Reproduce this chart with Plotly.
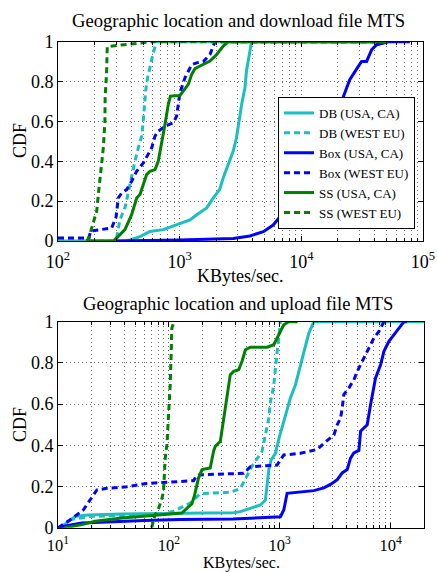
import plotly.graph_objects as go
import math

# ---------------- data: top chart (download) ----------------
top_db_ca_x = [100, 367, 472, 570, 733, 944, 1216, 1381, 1667, 1890, 2130, 2282, 2513, 2756, 2930, 3033, 3230, 3442, 3541, 3780, 3900, 51800]
top_db_ca_y = [0, 0, 0.022, 0.048, 0.057, 0.08, 0.106, 0.132, 0.166, 0.216, 0.258, 0.317, 0.383, 0.451, 0.518, 0.585, 0.685, 0.769, 0.853, 0.953, 1.0, 1.0]

top_db_eu_x = [100, 290, 303, 323, 355, 378, 403, 429, 457, 487, 502, 512, 525, 545, 570, 607, 647, 51800]
top_db_eu_y = [0, 0, 0.015, 0.107, 0.166, 0.25, 0.317, 0.40, 0.467, 0.526, 0.601, 0.685, 0.752, 0.819, 0.878, 0.945, 1.0, 1.0]

top_box_ca_x = [300, 1005, 2756, 3780, 4870, 5870, 6680, 7470, 21400, 25000, 29400, 31300, 34400, 37900, 41600, 51800, 78000]
top_box_ca_y = [0, 0.005, 0.013, 0.025, 0.047, 0.08, 0.122, 0.156, 0.70, 0.809, 0.876, 0.901, 0.901, 0.96, 0.985, 1.0, 1.0]

top_box_eu_x = [100, 180, 185, 229, 276, 300, 313, 334, 367, 403, 443, 503, 553, 589, 627, 667, 757, 832, 886, 944, 975, 1005, 1106, 1178, 1256, 1400, 1564, 1775, 1890, 1950, 51800]
top_box_eu_y = [0.015, 0.015, 0.05, 0.057, 0.065, 0.12, 0.216, 0.241, 0.258, 0.30, 0.35, 0.392, 0.434, 0.467, 0.526, 0.551, 0.576, 0.588, 0.593, 0.626, 0.685, 0.744, 0.819, 0.852, 0.885, 0.895, 0.90, 0.936, 0.978, 1.0, 1.0]

top_ss_ca_x = [177, 285, 313, 355, 403, 443, 472, 503, 535, 570, 627, 667, 711, 757, 806, 840, 1005, 1071, 1178, 1256, 1336, 1468, 1775, 2015, 2282, 2513, 51800]
top_ss_ca_y = [0, 0, 0.023, 0.057, 0.132, 0.216, 0.233, 0.283, 0.333, 0.350, 0.358, 0.40, 0.484, 0.585, 0.685, 0.727, 0.730, 0.752, 0.786, 0.836, 0.865, 0.878, 0.903, 0.936, 0.978, 1.0, 1.0]

top_ss_eu_x = [172, 177, 186, 195, 208, 216, 222, 236, 243, 244, 251, 254, 350, 600, 51800]
top_ss_eu_y = [0, 0.01, 0.05, 0.09, 0.15, 0.25, 0.32, 0.47, 0.60, 0.72, 0.85, 0.975, 0.985, 1.0, 1.0]

# ---------------- data: bottom chart (upload) ----------------
bot_db_ca_x = [10.5, 12.4, 14.3, 18.5, 37.6, 213, 384, 441, 543, 669, 742, 769, 796, 836, 914, 980, 1087, 1165, 1248, 1386, 1485, 1592, 1706, 1829, 2030, 20000]
bot_db_ca_y = [0, 0.031, 0.055, 0.062, 0.066, 0.071, 0.073, 0.078, 0.094, 0.11, 0.134, 0.199, 0.28, 0.329, 0.361, 0.43, 0.52, 0.581, 0.63, 0.694, 0.759, 0.824, 0.888, 0.945, 1.0, 1.0]

bot_db_eu_x = [11, 13, 20, 50, 90, 110, 130, 156, 192, 253, 358, 441, 507, 563, 692, 742, 795, 824, 883, 914, 946, 980, 1014]
bot_db_eu_y = [0, 0.04, 0.055, 0.06, 0.065, 0.08, 0.1, 0.12, 0.165, 0.168, 0.172, 0.19, 0.257, 0.3, 0.37, 0.45, 0.53, 0.61, 0.69, 0.775, 0.856, 0.937, 1.0]

bot_box_ca_x = [10, 12, 16.4, 26.6, 60, 126, 380, 1014, 1087, 1165, 1537, 2030, 2497, 2870, 3300, 3660, 4060, 4350, 4660, 5170, 5360, 6150, 6590, 7310, 8120, 8700, 9650, 11100, 13200, 14000]
bot_box_ca_y = [0, 0.01, 0.023, 0.028, 0.035, 0.04, 0.042, 0.053, 0.086, 0.167, 0.175, 0.18, 0.193, 0.21, 0.233, 0.266, 0.282, 0.338, 0.363, 0.375, 0.468, 0.50, 0.597, 0.727, 0.791, 0.856, 0.905, 0.945, 1.0, 1.0]

bot_box_eu_x = [10, 12.8, 16.9, 19.5, 22.4, 27.5, 41.8, 63.3, 110, 167, 179, 384, 472, 543, 946, 1014, 1087, 1537, 2176, 2588, 3080, 3300, 3535, 3660, 3785, 4200, 4660, 5170, 5740, 6370, 7070, 7840, 8700]
bot_box_eu_y = [0, 0.037, 0.086, 0.134, 0.183, 0.191, 0.199, 0.215, 0.223, 0.228, 0.256, 0.26, 0.264, 0.296, 0.304, 0.329, 0.353, 0.361, 0.38, 0.417, 0.45, 0.50, 0.532, 0.581, 0.646, 0.678, 0.718, 0.775, 0.824, 0.872, 0.921, 0.953, 1.0]

bot_ss_ca_x = [11.5, 16.4, 21.6, 37.6, 75, 131, 146, 161, 170, 185, 199, 236, 253, 262, 291, 312, 334, 358, 384, 426, 457, 490, 543, 769, 883, 980, 1087, 1205, 1450]
bot_ss_ca_y = [0, 0.015, 0.031, 0.047, 0.06, 0.071, 0.095, 0.115, 0.155, 0.241, 0.282, 0.29, 0.371, 0.395, 0.419, 0.532, 0.646, 0.743, 0.759, 0.767, 0.808, 0.864, 0.876, 0.876, 0.888, 0.937, 0.985, 1.0, 1.0]

bot_ss_eu_x = [70, 75, 80, 86, 89.5, 92.7, 96, 99.4, 102.8, 105, 106.4, 111.7]
bot_ss_eu_y = [0, 0.063, 0.087, 0.136, 0.176, 0.338, 0.403, 0.532, 0.694, 0.856, 0.969, 1.0]

series_names = ["DB (USA, CA)", "DB (WEST EU)", "Box (USA, CA)", "Box (WEST EU)", "SS (USA, CA)", "SS (WEST EU)"]
top_x_ticks = [100, 1000, 10000, 100000]
top_x_text = ["10<sup>2</sup>", "10<sup>3</sup>", "10<sup>4</sup>", "10<sup>5</sup>"]
bot_x_ticks = [10, 100, 1000, 10000]
bot_x_text = ["10<sup>1</sup>", "10<sup>2</sup>", "10<sup>3</sup>", "10<sup>4</sup>"]
y_ticks = [0, 0.2, 0.4, 0.6, 0.8, 1]
y_text = ["0", "0.2", "0.4", "0.6", "0.8", "1"]

# ---------------- styling ----------------
CYAN = "#1CBFBF"
BLUE = "#0000FF"
GREEN = "#008000"
colors = [CYAN, CYAN, BLUE, BLUE, GREEN, GREEN]
dashes = ["solid", "6px,4px", "solid", "6px,4px", "solid", "6px,4px"]
FONT = "Liberation Serif"
W, H = 437, 572

top_data = [(top_db_ca_x, top_db_ca_y), (top_db_eu_x, top_db_eu_y), (top_box_ca_x, top_box_ca_y),
            (top_box_eu_x, top_box_eu_y), (top_ss_ca_x, top_ss_ca_y), (top_ss_eu_x, top_ss_eu_y)]
bot_data = [(bot_db_ca_x, bot_db_ca_y), (bot_db_eu_x, bot_db_eu_y), (bot_box_ca_x, bot_box_ca_y),
            (bot_box_eu_x, bot_box_eu_y), (bot_ss_ca_x, bot_ss_ca_y), (bot_ss_eu_x, bot_ss_eu_y)]

fig = go.Figure()
for i, (xs, ys) in enumerate(top_data):
    fig.add_trace(go.Scatter(x=xs, y=ys, mode="lines", name=series_names[i],
                             line=dict(color=colors[i], width=3, dash=dashes[i]),
                             xaxis="x", yaxis="y", showlegend=True))
for i, (xs, ys) in enumerate(bot_data):
    fig.add_trace(go.Scatter(x=xs, y=ys, mode="lines", name=series_names[i],
                             line=dict(color=colors[i], width=3, dash=dashes[i]),
                             xaxis="x2", yaxis="y2", showlegend=False))


def minor_vals(lo, hi):
    vals = []
    for e in range(lo, hi + 1):
        for m in range(2, 10):
            vals.append(m * 10 ** e)
    return vals


GRID = "#6e6e6e"
GDASH = "1px,3px"
common_x = dict(type="log", showline=True, linecolor="black", linewidth=1, mirror="ticks",
                ticks="inside", ticklen=5, tickcolor="black", automargin=False,
                showgrid=True, gridcolor=GRID, griddash=GDASH, gridwidth=1,
                tickfont=dict(family=FONT, size=18, color="black"), zeroline=False)
common_y = dict(range=[0, 1], showline=True, linecolor="black", linewidth=1, mirror="ticks",
                ticks="inside", ticklen=5, tickcolor="black", automargin=False,
                showgrid=True, gridcolor=GRID, griddash=GDASH, gridwidth=1,
                tickvals=y_ticks, ticktext=y_text,
                tickfont=dict(family=FONT, size=18, color="black"), zeroline=False)


def label(text, xpx, ypx, angle=0, size=18):
    return dict(text=text, x=xpx / W, y=1 - ypx / H, xanchor="center", yanchor="middle",
                textangle=angle, xref="paper", yref="paper", showarrow=False,
                font=dict(family=FONT, size=size, color="black"))


fig.update_layout(
    width=W, height=H, margin=dict(l=0, r=0, t=0, b=0),
    paper_bgcolor="white", plot_bgcolor="white",
    font=dict(family=FONT, color="black"),
    xaxis=dict(common_x, domain=[58 / W, 423 / W], range=[2, 5], anchor="y",
               tickvals=top_x_ticks, ticktext=top_x_text, ticklabelstandoff=4,
               minor=dict(tickvals=minor_vals(2, 4), ticks="inside", ticklen=3, tickcolor="black",
                          showgrid=True, gridcolor=GRID, griddash=GDASH)),
    yaxis=dict(common_y, domain=[1 - 241 / H, 1 - 41.7 / H], anchor="x"),
    xaxis2=dict(common_x, domain=[58 / W, 424 / W], range=[1, math.log10(2e4)], anchor="y2",
                tickvals=bot_x_ticks, ticktext=bot_x_text, ticklabelstandoff=2,
                tickfont=dict(family=FONT, size=16.5, color="black"),
                minor=dict(tickvals=minor_vals(1, 4), ticks="inside", ticklen=3, tickcolor="black",
                           showgrid=True, gridcolor=GRID, griddash=GDASH)),
    yaxis2=dict(common_y, domain=[1 - 527.7 / H, 1 - 321.7 / H], anchor="x2"),
    legend=dict(x=278 / W, y=1 - 97 / H, xanchor="left", yanchor="top",
                bgcolor="white", bordercolor="black", borderwidth=1,
                font=dict(family=FONT, size=13, color="black"), tracegroupgap=0),
    annotations=[
        label("Geographic location and download file MTS", 238, 20, size=18.6),
        label("Geographic location and upload file MTS", 238, 303, size=18.6),
        label("CDF", 20, 141, -90),
        label("CDF", 20, 425, -90),
        label("KBytes/sec.", 240, 276),
        label("KBytes/sec.", 241, 563, size=16),
    ],
)

fig.write_html("out.html")
